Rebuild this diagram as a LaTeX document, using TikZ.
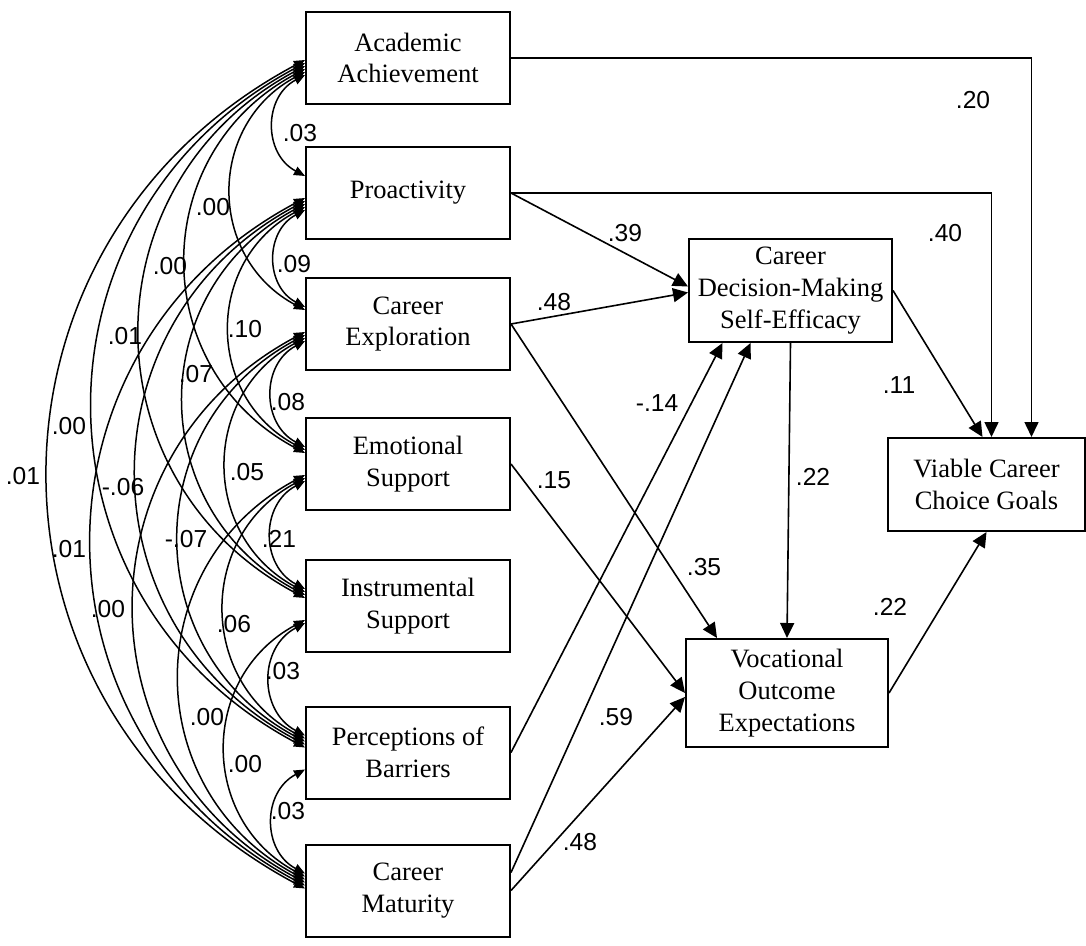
\documentclass[tikz,border=0pt]{standalone}
\usepackage{fontspec}
\setmainfont{Liberation Serif}
\newfontfamily\labfont{Liberation Sans}
\usetikzlibrary{arrows.meta}
\begin{document}
\begin{tikzpicture}[x=0.5pt,y=-0.5pt,
  box/.style={draw, line width=1pt, align=center, inner sep=1pt, font=\fontsize{13.25}{15.9}\selectfont},
  lbox/.style={box, minimum width=102pt, minimum height=46pt},
  reg/.style={line width=0.8pt, -{Triangle[length=7.5pt,width=7pt]}},
  cov/.style={line width=0.75pt, {Triangle[length=5.5pt,width=4.5pt]}-{Triangle[length=5.5pt,width=4.5pt]}, bend right=62, looseness=1.2},
  lab/.style={font=\labfont\fontsize{12.3}{14}\selectfont, inner sep=0pt}
]
\useasboundingbox (0,0) rectangle (1086,946);

% exogenous boxes
\node[lbox] (acad)   at (408,58)    {Academic\\Achievement};
\node[lbox] (proact) at (408,193)   {Proactivity};
\node[lbox] (exp)    at (408,324)   {Career\\Exploration};
\node[lbox] (emot)   at (408,464)   {Emotional\\Support};
\node[lbox] (instr)  at (408,606)   {Instrumental\\Support};
\node[lbox] (perc)   at (408,752.5) {Perceptions of\\Barriers};
\node[lbox] (mat)    at (408,890.5) {Career\\Maturity};

% endogenous boxes
\node[box, minimum width=101.5pt, minimum height=51.5pt] (cdmse) at (790.5,290.5) {Career\\Decision-Making\\Self-Efficacy};
\node[box, minimum width=101pt, minimum height=54pt] (voe) at (787,693) {Vocational\\Outcome\\Expectations};
\node[box, minimum width=98.5pt, minimum height=46.5pt] (vccg) at (986.5,484.5) {Viable Career\\Choice Goals};

% regression paths
\draw[reg] (acad.east) -| ([xshift=22.5pt]vccg.north);
\draw[reg] (proact.east) -| ([xshift=2.5pt]vccg.north);
\draw[reg] (cdmse.east) -- ([xshift=-2pt]vccg.north);
\draw[reg] (voe.east) -- (vccg.south);
\draw[reg] (cdmse.south) -- (voe.north);
\draw[reg] (proact.east) -- ([yshift=2pt]cdmse.west);
\draw[reg] (exp.east) -- ([yshift=-1pt]cdmse.west);
\draw[reg] (exp.east) -- ([xshift=-35pt]voe.north);
\draw[reg] (emot.east) -- (voe.west);
\draw[reg] (perc.east) -- ([xshift=-34pt]cdmse.south);
\draw[reg] ([yshift=9pt]mat.east) -- ([xshift=-20pt]cdmse.south);
\draw[reg] (mat.east) -- ([yshift=-2pt]voe.west);

% path labels
\node[lab] (p1)  at (973,100) {.20};
\node[lab] (p2)  at (945,233) {.40};
\node[lab] (p3)  at (625,233) {.39};
\node[lab] (p4)  at (554,302) {.48};
\node[lab] (p5)  at (899,385) {.11};
\node[lab] (p6)  at (657,403) {-.14};
\node[lab] (p7)  at (813,477) {.22};
\node[lab] (p8)  at (554,480) {.15};
\node[lab] (p9)  at (704,567) {.35};
\node[lab] (p10) at (890,607) {.22};
\node[lab] (p11) at (616,717) {.59};
\node[lab] (p12) at (580,842) {.48};

% covariances (d = distance between boxes)
% d=1
\draw[cov] ([yshift=-8.5pt]acad.west)   to ([yshift=8.5pt]proact.west);
\draw[cov] ([yshift=-8.5pt]proact.west) to ([yshift=8.5pt]exp.west);
\draw[cov] ([yshift=-8.5pt]exp.west)    to ([yshift=8.5pt]emot.west);
\draw[cov] ([yshift=-8.5pt]emot.west)   to ([yshift=8.5pt]instr.west);
\draw[cov] ([yshift=-8.5pt]instr.west)  to ([yshift=8.5pt]perc.west);
\draw[cov] ([yshift=-8.5pt]perc.west)   to ([yshift=8.5pt]mat.west);
% d=2
\draw[cov] ([yshift=-7pt]acad.west)   to ([yshift=7pt]exp.west);
\draw[cov] ([yshift=-7pt]proact.west) to ([yshift=7pt]emot.west);
\draw[cov] ([yshift=-7pt]exp.west)    to ([yshift=7pt]instr.west);
\draw[cov] ([yshift=-7pt]emot.west)   to ([yshift=7pt]perc.west);
\draw[cov] ([yshift=-7pt]instr.west)  to ([yshift=7pt]mat.west);
% d=3
\draw[cov] ([yshift=-5.5pt]acad.west)   to ([yshift=5.5pt]emot.west);
\draw[cov] ([yshift=-5.5pt]proact.west) to ([yshift=5.5pt]instr.west);
\draw[cov] ([yshift=-5.5pt]exp.west)    to ([yshift=5.5pt]perc.west);
\draw[cov] ([yshift=-5.5pt]emot.west)   to ([yshift=5.5pt]mat.west);
% d=4
\draw[cov] ([yshift=-4pt]acad.west)   to ([yshift=4pt]instr.west);
\draw[cov] ([yshift=-4pt]proact.west) to ([yshift=4pt]perc.west);
\draw[cov] ([yshift=-4pt]exp.west)    to ([yshift=4pt]mat.west);
% d=5
\draw[cov] ([yshift=-2.5pt]acad.west)   to ([yshift=2.5pt]perc.west);
\draw[cov] ([yshift=-2.5pt]proact.west) to ([yshift=2.5pt]mat.west);
% d=6
\draw[cov] ([yshift=-1pt]acad.west) to ([yshift=1pt]mat.west);

% covariance labels
\node[lab] (c1)  at (300,133) {.03};
\node[lab] (c2)  at (213,207) {.00};
\node[lab] (c3)  at (170,266) {.00};
\node[lab] (c4)  at (294,264) {.09};
\node[lab] (c5)  at (125,336) {.01};
\node[lab] (c6)  at (245,329) {.10};
\node[lab] (c7)  at (196,374) {.07};
\node[lab] (c8)  at (288,402) {.08};
\node[lab] (c9)  at (69,426)  {.00};
\node[lab] (c10) at (23,476)  {.01};
\node[lab] (c11) at (123,487) {-.06};
\node[lab] (c12) at (247,472) {.05};
\node[lab] (c13) at (186,539) {-.07};
\node[lab] (c14) at (279,539) {.21};
\node[lab] (c15) at (69,549)  {.01};
\node[lab] (c16) at (108,609) {.00};
\node[lab] (c17) at (234,624) {.06};
\node[lab] (c18) at (283,671) {.03};
\node[lab] (c19) at (207,717) {.00};
\node[lab] (c20) at (245,764) {.00};
\node[lab] (c21) at (288,811) {.03};
\end{tikzpicture}
\end{document}
